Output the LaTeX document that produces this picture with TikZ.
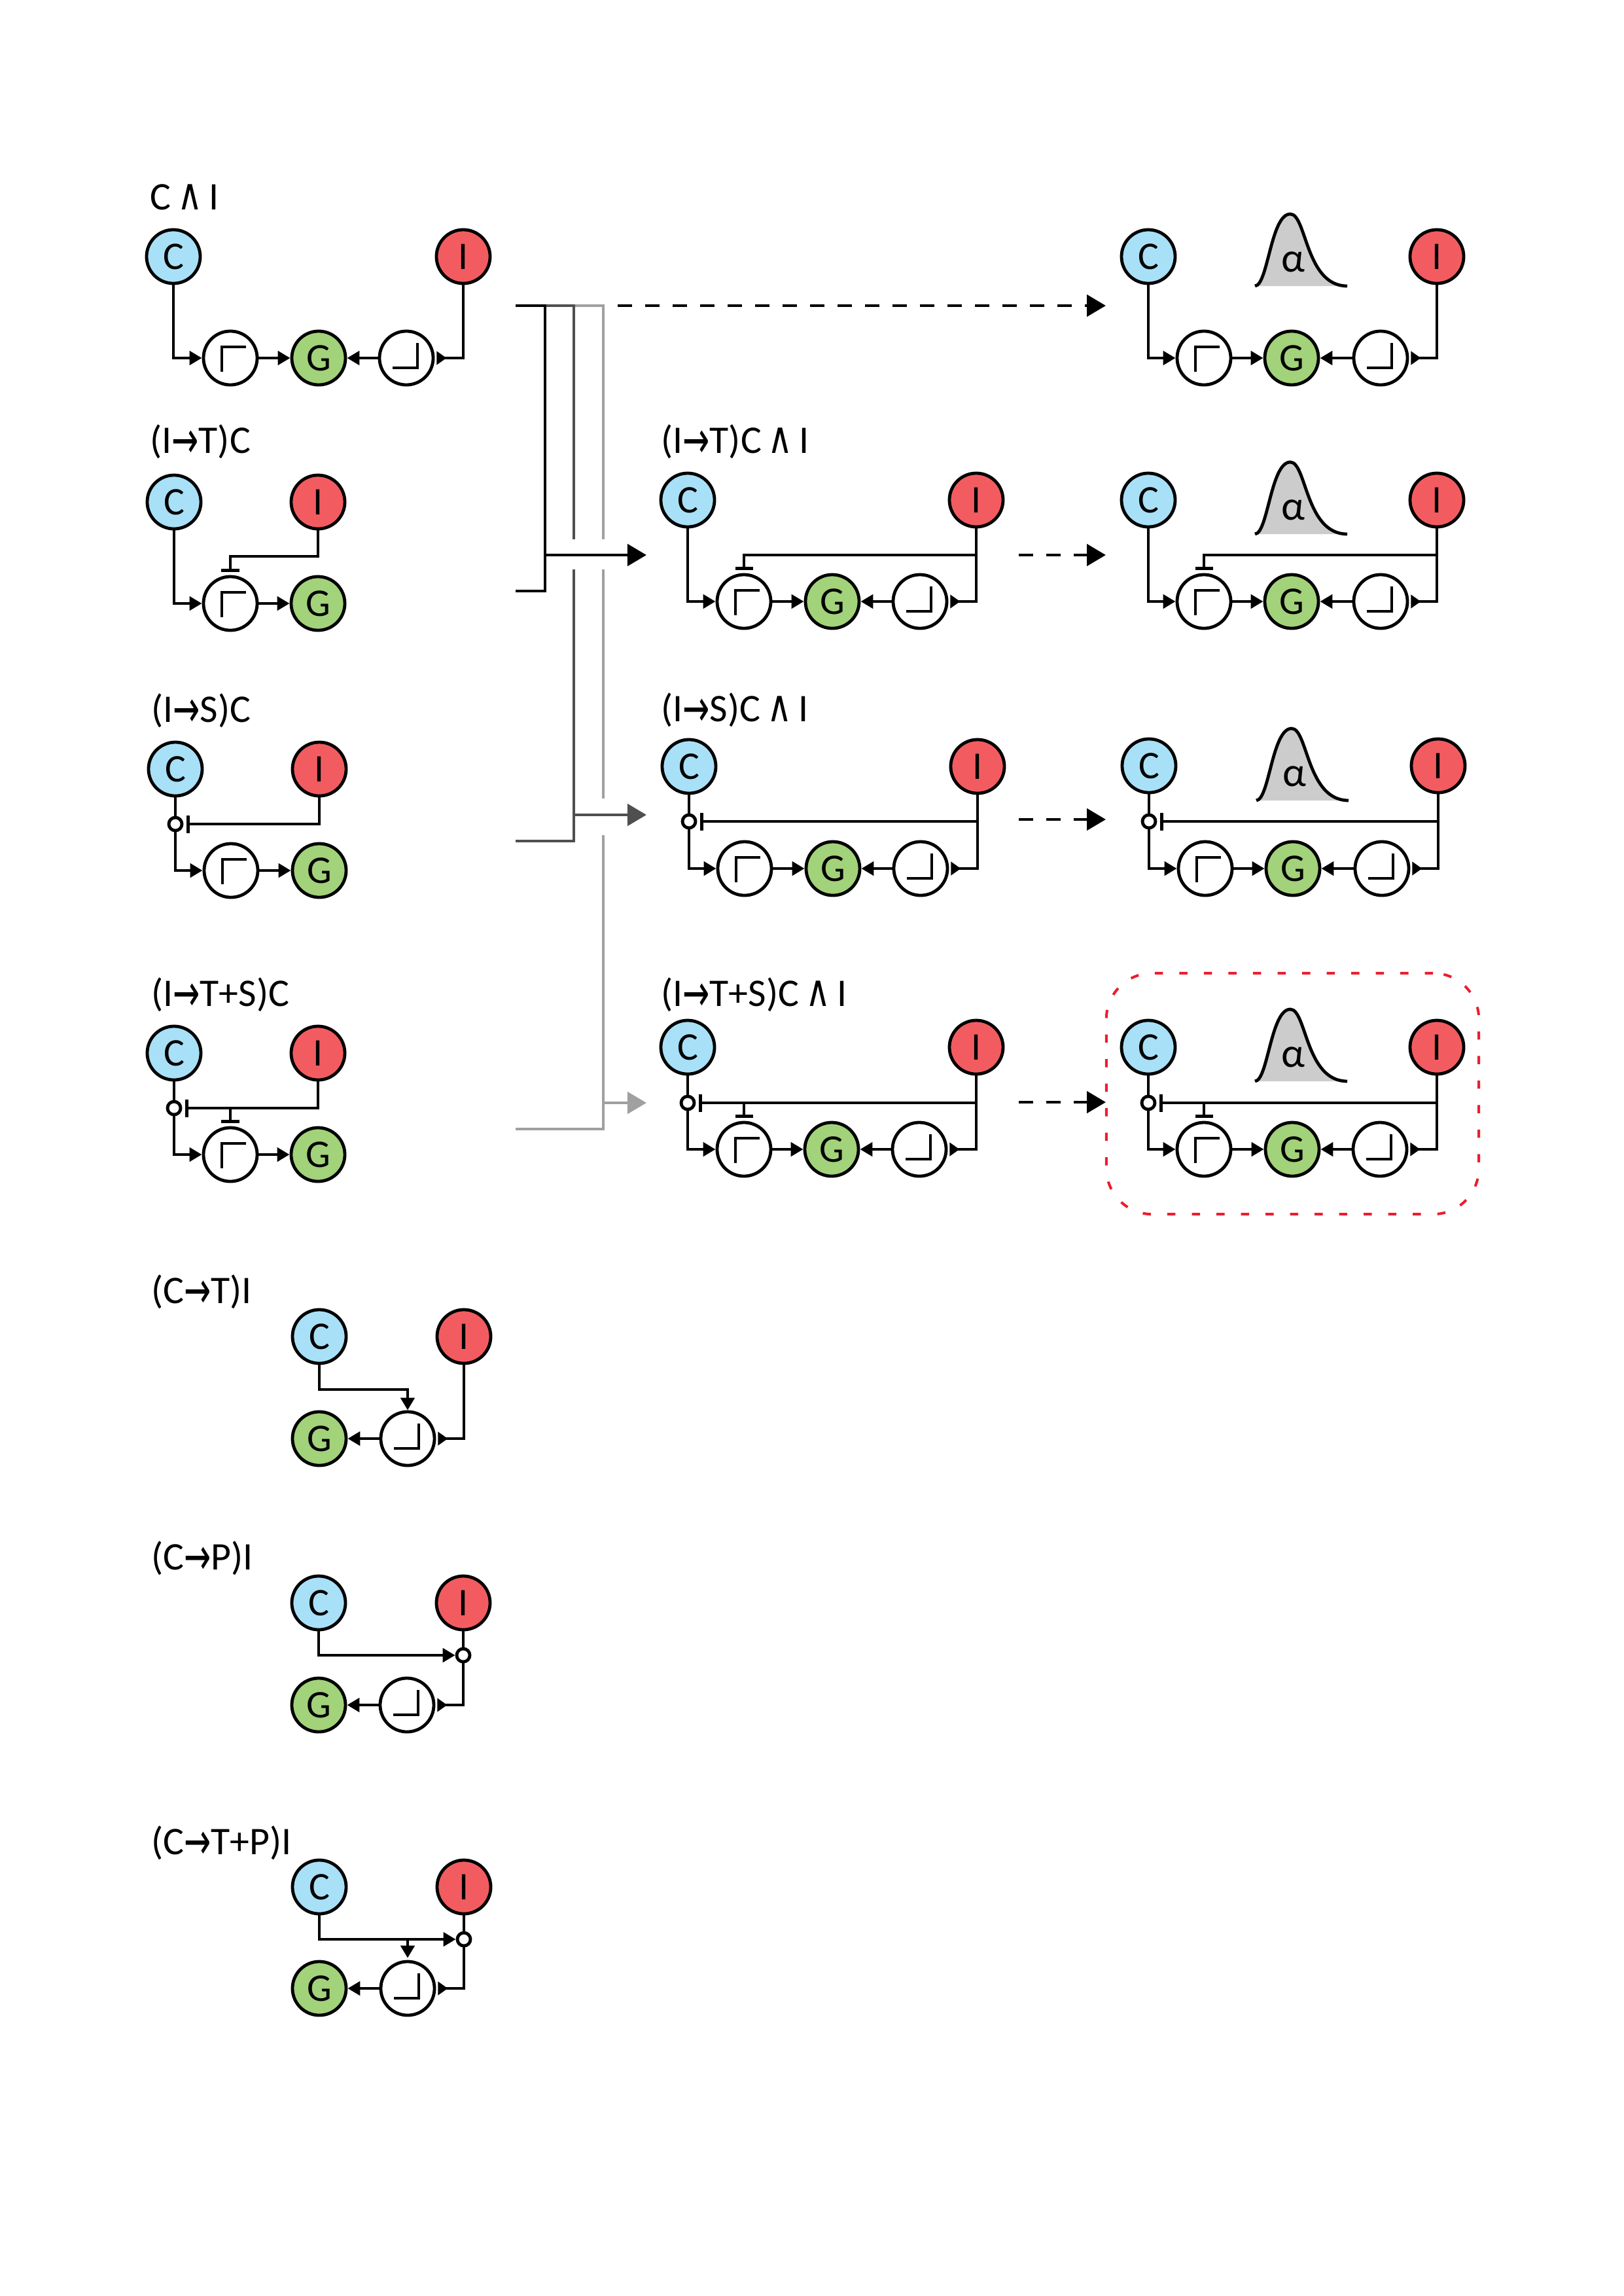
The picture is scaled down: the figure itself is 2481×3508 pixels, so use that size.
\documentclass[tikz,border=0pt]{standalone}
\usepackage{fontspec}
\usepackage{graphicx}
\setmainfont{Carlito}
\newfontfamily\symfont{DejaVu Sans}
\usetikzlibrary{arrows.meta,positioning,calc}
\definecolor{cfill}{HTML}{A8E0F7}
\definecolor{ifill}{HTML}{F25C60}
\definecolor{gfill}{HTML}{A2D279}
\definecolor{bellfill}{HTML}{CCCCCC}
\definecolor{midgray}{HTML}{4F4F4F}
\definecolor{lightgray}{HTML}{A0A0A0}
\definecolor{framered}{HTML}{ED1C2E}
\newcommand{\ra}{\raisebox{-2.2pt}{\scalebox{1}[1.6]{\symfont\fontsize{14}{16}\selectfont →}}}
\newcommand{\wedgesym}{\hspace{2.8pt}\scalebox{0.78}[1]{\symfont\fontsize{19}{20}\selectfont ∧}\hspace{2.8pt}}

\begin{document}
\begin{tikzpicture}[x=0.01cm,y=-0.01cm,line width=0.048cm,
  label/.style={anchor=base west,inner sep=0pt,font=\fontsize{17}{19}\selectfont},
  circ/.style={draw,circle,fill=#1,minimum size=0.82cm,inner sep=0pt,font=\fontsize{17}{19}\selectfont},
  risebox/.style={circ=white,path picture={\draw ([shift={(-13,21)}]path picture bounding box.center) -- ++(0,-38) -- ++(37,0);}},
  fallbox/.style={circ=white,path picture={\draw ([shift={(-21,15)}]path picture bounding box.center) -- ++(38,0) -- ++(0,-38);}},
  joint/.style={draw,circle,fill=white,minimum size=0.2cm,inner sep=0pt},
  wire/.style={-{Triangle[length=0.19cm,width=0.21cm]}},
  back/.style={-{Triangle[reversed,length=0.15cm,width=0.2cm]},shorten >=0.03cm},
  inhib/.style={-{Bar[width=0.27cm,line width=0.048cm]},shorten >=0.05cm},
  bigtip/.style={-{Triangle[length=0.29cm,width=0.33cm]}},
  dashline/.style={bigtip,dash pattern=on 0.22cm off 0.2cm},
  frame/.style={draw=framered,rounded corners=0.7cm,dash pattern=on 0.125cm off 0.25cm,line width=0.04cm,minimum width=5.69cm,minimum height=3.68cm},
]
  \useasboundingbox (0,0) rectangle (2481,3508);

  % left column
  \node[label] (lab1) at (227,320) {C\wedgesym I};
  \node[circ=cfill] (lc1) at (265,392) {C};
  \node[circ=ifill] (li1) at (708,392) {I};
  \node[risebox] (lt1) at (352,547) {};
  \node[circ=gfill] (lg1) at (487,547) {G};
  \node[fallbox] (lf1) at (621,547) {};
  \draw[wire] (lc1) |- (lt1);
  \draw[wire] (lt1) -- (lg1);
  \draw[wire] (lf1) -- (lg1);
  \draw[back] (li1) |- (lf1);

  \node[label] (lab2) at (227,692) {(I\ra T)C};
  \node[circ=cfill] (lc2) at (266,767) {C};
  \node[circ=ifill] (li2) at (486,767) {I};
  \node[risebox] (lt2) at (352,922) {};
  \node[circ=gfill] (lg2) at (486,922) {G};
  \coordinate (lk2) at (352,850);
  \draw[wire] (lc2) |- (lt2);
  \draw[wire] (lt2) -- (lg2);
  \draw[inhib] (li2) |- (lk2) -- (lt2);

  \node[label] (lab3) at (229,1103) {(I\ra S)C};
  \node[circ=cfill] (lc3) at (268,1175) {C};
  \node[circ=ifill] (li3) at (488,1175) {I};
  \node[joint] (ls3) at (268,1259) {};
  \node[risebox] (lt3) at (353,1330) {};
  \node[circ=gfill] (lg3) at (488,1330) {G};
  \draw (lc3) -- (ls3);
  \draw[wire] (ls3) |- (lt3);
  \draw[wire] (lt3) -- (lg3);
  \draw[inhib] (li3) |- (ls3);

  \node[label] (lab4) at (229,1537) {(I\ra T+S)C};
  \node[circ=cfill] (lc4) at (266,1609) {C};
  \node[circ=ifill] (li4) at (486,1609) {I};
  \node[joint] (ls4) at (266,1693) {};
  \node[risebox] (lt4) at (352,1764) {};
  \node[circ=gfill] (lg4) at (486,1764) {G};
  \coordinate (lk4) at (lt4 |- ls4);
  \draw (lc4) -- (ls4);
  \draw[wire] (ls4) |- (lt4);
  \draw[wire] (lt4) -- (lg4);
  \draw[inhib] (li4) |- (ls4);
  \draw[inhib] (lk4) -- (lt4);

  \node[label] (lab5) at (229,1991) {(C\ra T)I};
  \node[circ=cfill] (lc5) at (488,2042) {C};
  \node[circ=ifill] (li5) at (709,2042) {I};
  \node[circ=gfill] (lg5) at (488,2198) {G};
  \node[fallbox] (lf5) at (623,2198) {};
  \coordinate (lk5) at (623,2123);
  \draw[wire] (lc5) |- (lk5) -- (lf5);
  \draw[wire] (lf5) -- (lg5);
  \draw[back] (li5) |- (lf5);

  \node[label] (lab6) at (229,2398) {(C\ra P)I};
  \node[circ=cfill] (lc6) at (487,2449) {C};
  \node[circ=ifill] (li6) at (708,2449) {I};
  \node[joint] (ls6) at (708,2529) {};
  \node[circ=gfill] (lg6) at (487,2605) {G};
  \node[fallbox] (lf6) at (622,2605) {};
  \draw[wire] (lc6) |- (ls6);
  \draw (li6) -- (ls6);
  \draw[wire] (lf6) -- (lg6);
  \draw[back] (ls6) |- (lf6);

  \node[label] (lab7) at (229,2833) {(C\ra T+P)I};
  \node[circ=cfill] (lc7) at (488,2883) {C};
  \node[circ=ifill] (li7) at (709,2883) {I};
  \node[joint] (ls7) at (709,2963) {};
  \node[circ=gfill] (lg7) at (488,3038) {G};
  \node[fallbox] (lf7) at (623,3038) {};
  \coordinate (lk7) at (lf7 |- ls7);
  \draw[wire] (lc7) |- (ls7);
  \draw (li7) -- (ls7);
  \draw[wire,shorten >=0.03cm] (lk7) -- (lf7);
  \draw[wire] (lf7) -- (lg7);
  \draw[back] (ls7) |- (lf7);

  % middle column
  \node[label] (mlab2) at (1008,692) {(I\ra T)C\wedgesym I};
  \node[circ=cfill] (mc2) at (1051,764) {C};
  \node[circ=ifill] (mi2) at (1492,764) {I};
  \node[risebox] (mt2) at (1137,919) {};
  \node[circ=gfill] (mg2) at (1272,919) {G};
  \node[fallbox] (mf2) at (1406,919) {};
  \coordinate (mk2) at (1492,848);
  \draw[wire] (mc2) |- (mt2);
  \draw[wire] (mt2) -- (mg2);
  \draw[wire] (mf2) -- (mg2);
  \draw[back] (mi2) |- (mf2);
  \draw[inhib] (mk2) -| (mt2);

  \node[label] (mlab3) at (1008,1102) {(I\ra S)C\wedgesym I};
  \node[circ=cfill] (mc3) at (1053,1171) {C};
  \node[circ=ifill] (mi3) at (1494,1171) {I};
  \node[joint] (ms3) at (1053,1255) {};
  \node[risebox] (mt3) at (1138,1327) {};
  \node[circ=gfill] (mg3) at (1273,1327) {G};
  \node[fallbox] (mf3) at (1407,1327) {};
  \coordinate (mk3) at (mi3 |- ms3);
  \draw (mc3) -- (ms3);
  \draw[wire] (ms3) |- (mt3);
  \draw[wire] (mt3) -- (mg3);
  \draw[wire] (mf3) -- (mg3);
  \draw[back] (mi3) |- (mf3);
  \draw[inhib] (mk3) -- (ms3);

  \node[label] (mlab4) at (1008,1537) {(I\ra T+S)C\wedgesym I};
  \node[circ=cfill] (mc4) at (1051,1600) {C};
  \node[circ=ifill] (mi4) at (1492,1600) {I};
  \node[joint] (ms4) at (1051,1685) {};
  \node[risebox] (mt4) at (1137,1756) {};
  \node[circ=gfill] (mg4) at (1271,1756) {G};
  \node[fallbox] (mf4) at (1405,1756) {};
  \coordinate (mk4) at (mi4 |- ms4);
  \coordinate (mj4) at (mt4 |- ms4);
  \draw (mc4) -- (ms4);
  \draw[wire] (ms4) |- (mt4);
  \draw[wire] (mt4) -- (mg4);
  \draw[wire] (mf4) -- (mg4);
  \draw[back] (mi4) |- (mf4);
  \draw[inhib] (mk4) -- (ms4);
  \draw[inhib] (mj4) -- (mt4);

  % right column
  \node[circ=cfill] (rc1) at (1755,392) {C};
  \node[circ=ifill] (ri1) at (2196,392) {I};
  \node[risebox] (rt1) at (1840,547) {};
  \node[circ=gfill] (rg1) at (1974,547) {G};
  \node[fallbox] (rf1) at (2110,547) {};
  \draw[wire] (rc1) |- (rt1);
  \draw[wire] (rt1) -- (rg1);
  \draw[wire] (rf1) -- (rg1);
  \draw[back] (ri1) |- (rf1);

  \node[circ=cfill] (rc2) at (1755,764) {C};
  \node[circ=ifill] (ri2) at (2196,764) {I};
  \node[risebox] (rt2) at (1840,919) {};
  \node[circ=gfill] (rg2) at (1974,919) {G};
  \node[fallbox] (rf2) at (2110,919) {};
  \coordinate (rk2) at (2196,848);
  \draw[wire] (rc2) |- (rt2);
  \draw[wire] (rt2) -- (rg2);
  \draw[wire] (rf2) -- (rg2);
  \draw[back] (ri2) |- (rf2);
  \draw[inhib] (rk2) -| (rt2);

  \node[circ=cfill] (rc3) at (1756,1170) {C};
  \node[circ=ifill] (ri3) at (2198,1170) {I};
  \node[joint] (rs3) at (1756,1255) {};
  \node[risebox] (rt3) at (1842,1327) {};
  \node[circ=gfill] (rg3) at (1976,1327) {G};
  \node[fallbox] (rf3) at (2112,1327) {};
  \coordinate (rk3) at (ri3 |- rs3);
  \draw (rc3) -- (rs3);
  \draw[wire] (rs3) |- (rt3);
  \draw[wire] (rt3) -- (rg3);
  \draw[wire] (rf3) -- (rg3);
  \draw[back] (ri3) |- (rf3);
  \draw[inhib] (rk3) -- (rs3);

  \node[circ=cfill] (rc4) at (1755,1600) {C};
  \node[circ=ifill] (ri4) at (2196,1600) {I};
  \node[joint] (rs4) at (1755,1685) {};
  \node[risebox] (rt4) at (1840,1756) {};
  \node[circ=gfill] (rg4) at (1975,1756) {G};
  \node[fallbox] (rf4) at (2109,1756) {};
  \coordinate (rk4) at (ri4 |- rs4);
  \coordinate (rj4) at (rt4 |- rs4);
  \draw (rc4) -- (rs4);
  \draw[wire] (rs4) |- (rt4);
  \draw[wire] (rt4) -- (rg4);
  \draw[wire] (rf4) -- (rg4);
  \draw[back] (ri4) |- (rf4);
  \draw[inhib] (rk4) -- (rs4);
  \draw[inhib] (rj4) -- (rt4);

  \foreach \n/\bx/\by in {1/0/-1214,2/0/-835,3/2/-428,4/0/1} {
    \begin{scope}[shift={(\bx,\by)}]
      \draw[fill=bellfill] (1918,1651) .. controls (1938,1650) and (1942,1541) .. (1972,1541)
        .. controls (1997,1541) and (1995,1651) .. (2059,1651);
      \node[font=\fontsize{18}{20}\selectfont] (alpha\n) at (1976,1614) {α};
    \end{scope}
  }

  \node[frame] (best) at (1975.5,1671) {};

  % selection lines
  \coordinate (src1) at (788,467);
  \coordinate (src2) at (788,903);
  \coordinate (src3) at (788,1285);
  \coordinate (src4) at (788,1725);
  \coordinate (gapa) at (877,824);
  \coordinate (gapb) at (877,870);
  \coordinate (gapc) at (922,824);
  \coordinate (gapd) at (922,870);
  \coordinate (gape) at (922,1220);
  \coordinate (gapf) at (922,1276);
  \coordinate (forkb) at (833,848);
  \coordinate (forkc) at (877,1245);
  \coordinate (forkd) at (922,1685);
  \coordinate (tipb) at (988,848);
  \coordinate (tipc) at (988,1245);
  \coordinate (tipd) at (988,1685);
  \coordinate (dasha) at (944,467);
  \coordinate (enda) at (1690,467);
  \coordinate (dashb) at (1557,848);
  \coordinate (endb) at (1690,848);
  \coordinate (dashc) at (1557,1252);
  \coordinate (endc) at (1690,1252);
  \coordinate (dashd) at (1557,1684);
  \coordinate (endd) at (1690,1684);

  \draw[lightgray] (src1) -| (gapc);
  \draw[lightgray] (gapd) -- (gape);
  \draw[lightgray] (gapf) |- (src4);
  \draw[lightgray,bigtip] (forkd) -- (tipd);
  \draw[midgray] (src1) -| (gapa);
  \draw[midgray] (gapb) |- (src3);
  \draw[midgray,bigtip] (forkc) -- (tipc);
  \draw (src1) -| (src2 -| forkb) -- (src2);
  \draw[bigtip] (forkb) -- (tipb);

  \draw[dashline] (dasha) -- (enda);
  \draw[dashline] (dashb) -- (endb);
  \draw[dashline] (dashc) -- (endc);
  \draw[dashline] (dashd) -- (endd);
\end{tikzpicture}
\end{document}
